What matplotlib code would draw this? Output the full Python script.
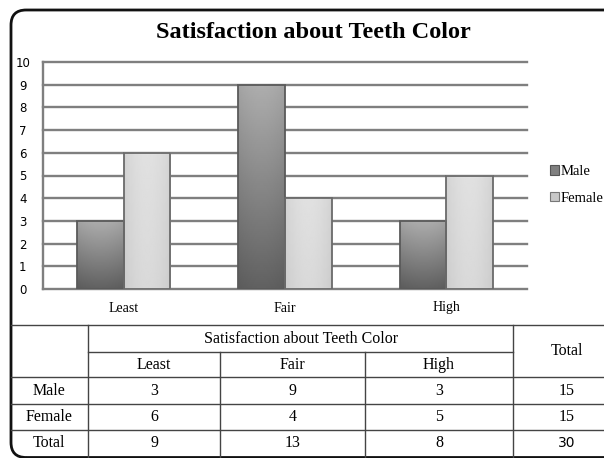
import numpy as np
import matplotlib
matplotlib.use("Agg")
import matplotlib.pyplot as plt
from matplotlib.patches import FancyBboxPatch, Patch
from matplotlib.lines import Line2D

categories = ["Least", "Fair", "High"]
male = [3, 9, 3]
female = [6, 4, 5]
series_names = ["Male", "Female"]
title = "Satisfaction about Teeth Color"
yticks = list(range(0, 11))

W, H = 604, 458
fig = plt.figure(figsize=(W / 100, H / 100), dpi=100)
fig.patch.set_facecolor("white")

def fx(x):
    return x / W

def fy(y):
    return 1 - y / H

# outer frame with rounded corner
frame = FancyBboxPatch((fx(11), fy(457.5)), fx(700) - fx(11), fy(10) - fy(457.5),
                       boxstyle="round,pad=0,rounding_size=0.025",
                       transform=fig.transFigure, fill=False,
                       edgecolor="#111111", linewidth=2.0, mutation_aspect=W / H)
fig.add_artist(frame)

fig.text(fx(313), fy(32), title, ha="center", va="center",
         fontsize=17.5, fontweight="bold", family="Liberation Serif")

ax = fig.add_axes([fx(43), fy(289), fx(527) - fx(43), fy(62) - fy(289)])
x = np.arange(len(categories))
bw = 0.29
grid_c = "#7f7f7f"
for v in yticks[1:]:
    ax.axhline(v, color=grid_c, lw=1.7, zorder=1, clip_on=False)

bm = ax.bar(x - bw / 2, male, bw, facecolor="none", edgecolor="#5a5a5a", lw=1.3, zorder=4)
bf = ax.bar(x + bw / 2, female, bw, facecolor="none", edgecolor="#6a6a6a", lw=1.3, zorder=4)

# gradients
for p in bm.patches:
    x0, y0 = p.get_x(), p.get_y()
    w, h = p.get_width(), p.get_height()
    t = np.linspace(0, 1, 100)[:, None]
    vert = 0.38 + 0.30 * t
    horiz = 1 - 0.06 * np.abs(np.linspace(-1, 1, 40))[None, :] ** 2
    img = vert * horiz
    ax.imshow(img, extent=[x0, x0 + w, y0, y0 + h], origin="lower",
              cmap="gray", vmin=0, vmax=1, aspect="auto", zorder=3, interpolation="bilinear")
for p in bf.patches:
    x0, y0 = p.get_x(), p.get_y()
    w, h = p.get_width(), p.get_height()
    t = np.linspace(0, 1, 100)[:, None]
    vert = 0.85 + 0.03 * t
    horiz = 1.0 - 0.06 * np.abs(np.linspace(-1, 1, 40))[None, :] ** 2
    img = vert * horiz
    ax.imshow(img, extent=[x0, x0 + w, y0, y0 + h], origin="lower",
              cmap="gray", vmin=0, vmax=1, aspect="auto", zorder=3, interpolation="bilinear")

ax.set_xlim(-0.5, len(categories) - 0.5)
ax.set_ylim(0, 10)
ax.set_yticks(yticks)
ax.set_yticklabels([str(v) for v in yticks], family="DejaVu Sans", fontsize=8.5, ha="center")
ax.set_xticks(x)
ax.set_xticklabels(categories, family="Liberation Serif", fontsize=10)
ax.tick_params(axis="both", length=0)
ax.tick_params(axis="y", pad=14.5)
ax.tick_params(axis="x", pad=9)
for s in ["top", "right"]:
    ax.spines[s].set_visible(False)
for s in ["left", "bottom"]:
    ax.spines[s].set_color(grid_c)
    ax.spines[s].set_linewidth(1.7)
ax.set_facecolor("none")

handles = [Patch(facecolor="#808080", edgecolor="#555555", lw=0.8),
           Patch(facecolor="#c8c8c8", edgecolor="#777777", lw=0.8)]
leg = fig.legend(handles, series_names, loc="center left",
                 bbox_to_anchor=(fx(550), fy(185)), frameon=False,
                 prop={"family": "Liberation Serif", "size": 10.5},
                 handlelength=0.6, handleheight=0.6, handletextpad=0.1,
                 labelspacing=0.95, borderaxespad=0, borderpad=0)

# table
lc = "#444444"
def hline(y, x0, x1, lw=1.0):
    fig.add_artist(Line2D([fx(x0), fx(x1)], [fy(y), fy(y)], transform=fig.transFigure,
                          color=lc, lw=lw))

def vline(x, y0, y1, lw=1.0):
    fig.add_artist(Line2D([fx(x), fx(x)], [fy(y0), fy(y1)], transform=fig.transFigure,
                          color=lc, lw=lw))

hline(325, 11, 604)
hline(352, 88, 513)
hline(377, 11, 604)
hline(404, 11, 604)
hline(430, 11, 604)
vline(88, 325, 458)
vline(220, 352, 458)
vline(365, 352, 458)
vline(513, 325, 458)

tf = {"family": "Liberation Serif", "fontsize": 11.5}
col_x = [154, 292.5, 439]
fig.text(fx(301), fy(339), title, ha="center", va="center", **tf)
for cx, c in zip(col_x, categories):
    fig.text(fx(cx), fy(365), c, ha="center", va="center", **tf)
fig.text(fx(567), fy(351), "Total", ha="center", va="center", **tf)

totals = [m + f for m, f in zip(male, female)]
rows = [("Male", male, 391), ("Female", female, 417), ("Total", totals, 443)]
for name, vals, yy in rows:
    fig.text(fx(49), fy(yy), name, ha="center", va="center", **tf)
    for cx, v in zip(col_x, vals):
        fig.text(fx(cx), fy(yy), str(v), ha="center", va="center", **tf)
    if name == "Total":
        fig.text(fx(567), fy(yy), str(sum(vals)), ha="center", va="center",
                 family="DejaVu Sans", fontsize=10)
    else:
        fig.text(fx(567), fy(yy), str(sum(vals)), ha="center", va="center", **tf)

fig.savefig("out.png", dpi=100, facecolor="white")
